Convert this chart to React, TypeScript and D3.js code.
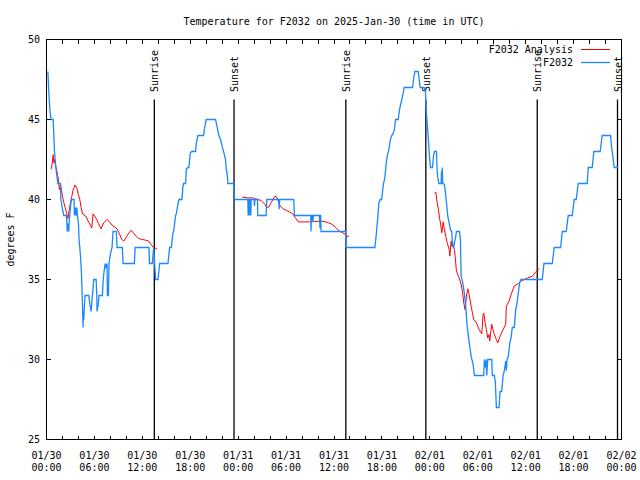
import React from "react";
import * as d3 from "d3";

// hours since 2025-01-30 00:00 UTC, temperature °F
const obsDay1: [number, number][] = [
  [0.17,48],[0.29,46.7],[0.42,45.6],[0.58,45],[0.83,45],[0.92,44],[1.0,43],[1.17,42],[1.42,41],[1.75,41],[1.8,40],[2.0,39.4],[2.17,39],[2.5,39],[2.6,38],[2.65,38.5],[2.7,38],[2.75,38.5],[2.79,38],[2.83,38.5],[3.0,39.5],[3.12,40],[3.45,40],[3.5,39],[3.58,39.5],[3.63,39],[3.7,39.5],[3.75,39],[3.8,39.5],[3.87,39],[4.0,38.5],[4.08,37.5],[4.25,36.5],[4.37,35.5],[4.5,33.5],[4.58,32],[4.62,33],[4.67,32.5],[4.71,33],[4.83,34],[5.29,34],[5.42,33.5],[5.58,33],[5.75,34],[5.92,35],[6.21,35],[6.3,34],[6.33,33],[6.5,33.5],[6.58,34],[7.0,34],[7.1,35],[7.21,35.5],[7.35,36],[7.46,35.7],[7.58,36],[7.63,34],[7.75,34],[7.83,36],[8.0,36.6],[8.21,37],[8.33,38],[8.75,38],[8.83,37],[9.5,37],[9.58,36],[11.0,36],[11.1,37],[12.83,37],[12.9,36],[13.25,36],[13.42,37],[13.5,36.5],[13.54,36],[13.67,35],[13.96,35],[14.17,36],[15.21,36],[15.42,37],[15.63,37],[15.83,37.9],[15.92,38],[16.17,39],[16.25,39.1],[16.42,39.6],[16.58,40],[16.96,40],[17.08,40.8],[17.17,41],[17.42,41],[17.5,41.9],[17.71,42],[17.83,42],[18.0,42.9],[18.17,43],[18.67,43],[18.75,43.5],[18.96,44],[19.67,44],[19.8,44.5],[19.92,44.8],[20.0,45],[21.17,45],[21.25,44.8],[21.42,44.4],[21.58,44],[21.8,43.75],[22.0,43.3],[22.17,43],[22.42,42.5],[22.5,41.9],[22.63,41.56],[22.71,41],[23.42,41],[23.46,40.5],[23.54,40],
];
const obsDay2: [number, number][] = [
  [25.21,40],[25.25,39],[25.3,40],[25.36,40],[25.4,39],[25.46,40],[25.54,40],[25.58,39],[25.63,40],[26.0,40],[26.04,39.6],[26.1,40],[26.42,40],[26.46,39],[27.5,39],[27.58,40],[29.08,40],[29.13,39.4],[29.2,40],[30.96,40],[31.04,39],[33.08,39],[33.12,38],[33.17,39],[33.3,39],[33.35,38.6],[33.42,39],[34.17,39],[34.25,38.2],[34.3,39],[34.33,39],[34.38,38],[36.67,38],[37.45,38],[37.5,37],[41.12,37],[41.29,37.8],[41.46,38.75],[41.62,39.8],[41.79,40],[41.96,40],[42.2,41],[42.37,41.35],[42.54,42.3],[42.71,42.8],[42.87,43.1],[43.04,43.7],[43.2,43.96],[43.37,44.1],[43.54,44.3],[43.71,45],[44.04,45],[44.2,45.6],[44.37,46],[44.54,46.35],[44.71,46.77],[44.79,47],[45.83,47],[45.96,47.5],[46.12,48],[46.54,48],[46.67,47.5],[46.79,47],[47.29,47],[47.46,46.75],[47.54,45.6],[47.67,44.8],[47.83,43.65],[47.96,42.6],
];
const obsDay3: [number, number][] = [
  [48.08,42],[48.33,42],[48.46,42.7],[48.58,43],[48.83,43],[48.92,41.8],[49.0,41.35],[49.13,41],[49.42,41],[49.46,41.77],[49.5,41],[49.56,42],[49.62,41],[49.83,40.94],[49.96,40.4],[50.08,39.8],[50.25,38.96],[50.42,38.54],[50.58,38.1],[50.75,38],[50.83,37.08],[51.0,37],[51.08,37.3],[51.25,37.7],[51.33,38],[51.71,38],[51.83,37.5],[51.92,35.2],[52.08,34.9],[52.25,34.4],[52.33,34.1],[52.5,33.3],[52.67,32.08],[52.83,31.45],[53.0,30.8],[53.17,30.2],[53.42,29.7],[53.58,29],[54.75,29],[54.83,30],[54.92,29.5],[55.04,30],[55.13,29],[55.25,30],[55.75,30],[55.83,29],[56.08,29],[56.21,28.54],[56.33,27],[56.67,27],[56.79,28],[57.0,28],[57.17,29],[57.33,29.3],[57.5,29.9],[57.58,29.3],[57.67,30],[57.83,30.2],[58.0,31],[58.17,31.35],[58.33,32],[58.58,32],[58.75,33.1],[58.92,33.5],[59.08,34.17],[59.25,34.8],[59.42,35],[62.08,35],[62.29,36],[63.33,36],[63.58,37],[64.38,37],[64.58,38],[65.08,38],[65.33,39],[65.83,39],[66.08,40],[66.33,40],[66.58,41],[67.71,41],[67.83,42],[68.33,42],[68.54,43],[69.33,43],[69.58,44],[70.63,44],[70.75,43.3],[70.92,42.7],[71.08,42],[71.58,42],
];

const anaDay1: [number, number][] = [
  [0.58,41.9],[0.7,42.2],[0.83,42.8],[0.92,42.3],[1.0,42.5],[1.1,42.2],[1.25,41.9],[1.4,41.5],[1.5,41.25],[1.58,40.73],[1.67,40.6],[1.75,40.94],[1.88,40.6],[2.0,40.2],[2.17,39.8],[2.33,39.5],[2.5,39.2],[2.67,38.8],[2.83,39.3],[3.0,39.8],[3.17,40.2],[3.33,40.6],[3.58,40.9],[3.83,40.67],[4.0,40.3],[4.17,40.0],[4.33,39.5],[4.5,39.1],[4.92,38.96],[5.29,38.58],[5.67,38.23],[5.83,39.1],[6.25,38.8],[6.5,38.5],[6.83,38.17],[7.17,38.54],[7.58,38.75],[7.9,38.6],[8.2,38.4],[8.83,38.17],[9.1,37.9],[9.42,37.5],[9.67,37.4],[10.0,37.65],[10.29,37.9],[10.6,38.08],[10.9,37.9],[11.25,37.7],[11.54,37.56],[12.0,37.5],[12.38,37.46],[12.79,37.4],[13.08,37.19],[13.5,36.92],[13.83,36.92],
];
const anaDay2: [number, number][] = [
  [24.5,40.15],[25.21,40.1],[25.83,40.1],[26.04,40.06],[26.46,40.0],[26.88,39.94],[27.29,39.73],[27.58,39.52],[27.83,39.52],[28.13,39.8],[28.54,40.17],[28.75,40.2],[28.96,40.0],[29.25,39.6],[29.58,39.44],[30.0,39.32],[30.42,39.23],[30.83,39.1],[31.17,38.85],[31.54,38.6],[32.92,38.6],[34.38,38.65],[35.0,38.6],[35.63,38.48],[36.04,38.34],[36.33,38.19],[36.67,38.02],[37.08,37.92],[37.42,37.81],[37.58,37.71],[37.87,37.7],
];
const anaDay3: [number, number][] = [
  [48.58,40.4],[48.75,40.46],[48.92,39.79],[49.08,39.375],[49.21,38.85],[49.33,38.54],[49.5,37.92],[49.67,38.6],[49.83,38.1],[50.0,37.7],[50.17,37.3],[50.42,36.875],[50.5,36.46],[50.67,37.4],[50.75,37.08],[50.83,37.4],[50.92,37.08],[51.08,36.875],[51.17,36.46],[51.33,35.52],[51.67,35.1],[51.92,34.7],[52.08,34.27],[52.25,33.54],[52.42,33.1],[52.58,33.96],[52.75,34.42],[52.92,34.06],[53.17,33.33],[53.5,32.5],[53.83,32.3],[54.17,31.875],[54.5,31.6],[54.67,32.8],[54.75,32.9],[54.92,32.3],[55.08,31.875],[55.25,31.35],[55.42,31.56],[55.5,31.15],[55.75,32.2],[56.0,31.67],[56.33,31.25],[56.5,31.04],[56.83,31.5],[57.17,31.875],[57.5,32.2],[57.58,33.33],[57.92,33.65],[58.25,34.17],[58.58,34.6],[59.08,34.75],[59.42,34.9],[60.25,35.1],[60.83,35.2],[61.25,35.46],[61.67,35.67],
];

const sunriseHours = [13.5, 37.48, 61.45];
const sunsetHours = [23.48, 47.5, 71.5];

const xTickHours = [0, 6, 12, 18, 24, 30, 36, 42, 48, 54, 60, 66, 72];
const xTickDates = ["01/30","01/30","01/30","01/30","01/31","01/31","01/31","01/31","02/01","02/01","02/01","02/01","02/02"];
const xTickTimes = ["00:00","06:00","12:00","18:00","00:00","06:00","12:00","18:00","00:00","06:00","12:00","18:00","00:00"];
const yTicks = [25, 30, 35, 40, 45, 50];

const title = "Temperature for F2032 on 2025-Jan-30 (time in UTC)";
const yLabel = "degrees F";
const seriesNames = ["F2032 Analysis", "F2032"];
const seriesColors = ["#ff0000", "#1a88ff"];

const FONT = "'DejaVu Sans Mono', 'Liberation Mono', monospace";

export default function App() {
  const L = 46.5, R = 621.5, T = 39.5, B = 439.5;
  const x = d3.scaleLinear().domain([0, 72]).range([L, R]);
  const y = d3.scaleLinear().domain([25, 50]).range([B, T]);
  const line = d3.line<[number, number]>().x(d => x(d[0])).y(d => y(d[1]));

  const obs = [...obsDay1, ...obsDay2, ...obsDay3];
  const anaSegs = [anaDay1, anaDay2, anaDay3];
  const minorTicks = d3.range(0, 73, 2);

  return (
    <svg width={640} height={480} style={{ position: "absolute", left: 0, top: 0, background: "#fff" }}
      fontFamily={FONT} fontSize={10}>
      <rect x={0} y={0} width={640} height={480} fill="#fff" />
      <text x={(L + R) / 2} y={24.5} textAnchor="middle" fill="#000">{title}</text>
      <text transform={`translate(14,${(T + B) / 2}) rotate(-90)`} textAnchor="middle" fill="#000">{yLabel}</text>

      {/* ticks */}
      <g stroke="#000" strokeWidth={1} shapeRendering="crispEdges">
        {minorTicks.map(h => (
          <g key={"xt" + h}>
            <line x1={x(h)} x2={x(h)} y1={B} y2={B - 4} />
            <line x1={x(h)} x2={x(h)} y1={T} y2={T + 4} />
          </g>
        ))}
        {yTicks.map(v => (
          <g key={"yt" + v}>
            <line x1={L} x2={L + 4} y1={y(v)} y2={y(v)} />
            <line x1={R} x2={R - 4} y1={y(v)} y2={y(v)} />
          </g>
        ))}
      </g>
      {yTicks.map(v => (
        <text key={"yl" + v} x={40} y={y(v) + 3.5} textAnchor="end" fill="#000">{v}</text>
      ))}
      {xTickHours.map((h, i) => (
        <g key={"xl" + h}>
          <text x={x(h)} y={458.5} textAnchor="middle" fill="#000">{xTickDates[i]}</text>
          <text x={x(h)} y={470.5} textAnchor="middle" fill="#000">{xTickTimes[i]}</text>
        </g>
      ))}

      {/* sunrise / sunset */}
      {sunriseHours.map(h => (
        <g key={"sr" + h}>
          <line x1={x(h)} x2={x(h)} y1={99.5} y2={B} stroke="#000" strokeWidth={1.3} />
          <text transform={`translate(${x(h) + 4},92) rotate(-90)`} fill="#000">Sunrise</text>
        </g>
      ))}
      {sunsetHours.map(h => (
        <g key={"ss" + h}>
          <line x1={x(h)} x2={x(h)} y1={99.5} y2={B} stroke="#000" strokeWidth={1.3} />
          <text transform={`translate(${x(h) + 4},92) rotate(-90)`} fill="#000">Sunset</text>
        </g>
      ))}

      {/* data */}
      {anaSegs.map((s, i) => (
        <path key={"ana" + i} d={line(s) || ""} fill="none" stroke={seriesColors[0]} strokeWidth={1} />
      ))}
      <path d={line(obs) || ""} fill="none" stroke={seriesColors[1]} strokeWidth={1.3} />

      {/* border */}
      <rect x={L} y={T} width={R - L} height={B - T} fill="none" stroke="#000" strokeWidth={1} shapeRendering="crispEdges" />

      {/* legend */}
      {seriesNames.map((n, i) => (
        <g key={"lg" + i}>
          <text x={573} y={53 + i * 13} textAnchor="end" fill="#000">{n}</text>
          <line x1={581} x2={610} y1={49.5 + i * 13} y2={49.5 + i * 13} stroke={seriesColors[i]} strokeWidth={i === 1 ? 1.3 : 1} />
        </g>
      ))}
    </svg>
  );
}
